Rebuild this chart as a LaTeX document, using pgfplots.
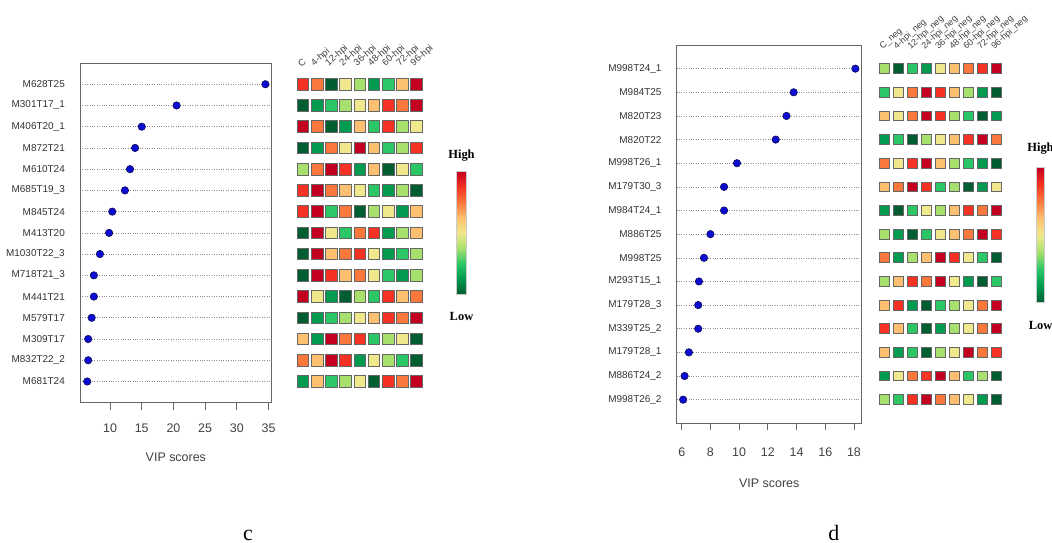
\documentclass[border=0pt]{standalone}
\usepackage{fontspec}
\setmainfont{Liberation Sans}
\newfontfamily\seriffont{Liberation Serif}
\usepackage{pgfplots}
\pgfplotsset{compat=1.18}
\definecolor{dotblue}{RGB}{12,12,210}
\definecolor{dotedge}{RGB}{10,10,90}
\tikzset{
  hdr/.style={anchor=south west, rotate=42, inner sep=0pt, text=black!75},
  hl/.style={font=\seriffont\bfseries\fontsize{12.5}{14}\selectfont}
}
\pgfplotsset{
  colormap={vipmap}{rgb255=(0,94,48) rgb255=(0,155,80) rgb255=(43,199,103)
    rgb255=(168,224,110) rgb255=(240,232,140) rgb255=(253,192,112)
    rgb255=(250,120,60) rgb255=(245,50,35) rgb255=(195,0,32)},
  dotaxis/.style={scale only axis, anchor=north west, y dir=reverse,
    ymin=0, ymax=16, ytick={1,...,15}, xtick pos=bottom, tick align=outside,
    major tick length=7bp, ytick style={draw=none},
    xtick style={black!60, line width=0.8bp},
    axis line style={black!60, line width=1bp},
    ymajorgrids, grid style={dotted, black!45, line width=0.6bp},
    yticklabel style={font=\fontsize{10}{12}\selectfont, text=black!80, inner sep=0pt, xshift=-8bp},
    xticklabel style={font=\fontsize{12.5}{14}\selectfont, text=black!75},
    /pgf/number format/assume math mode=true, clip=false},
  dots/.style={only marks, mark=*, mark size=3.7bp,
    mark options={fill=dotblue, draw=dotedge, line width=0.6bp}},
  heat/.style={scale only axis, anchor=north west, y dir=reverse,
    ymin=0, ymax=16, xmin=0.5, xmax=9.5, hide axis, clip=false,
    colormap name=vipmap, point meta min=1, point meta max=9},
  heatsq/.style={scatter, only marks, mark=square*, point meta=explicit,
    scatter/use mapped color={draw=black!60, fill=mapped color},
    mark options={line width=0.9bp}},
  cbar/.style={scale only axis, anchor=north west, hide axis,
    colormap name=vipmap, point meta min=1, point meta max=9, colorbar}
}
\begin{document}
\begin{tikzpicture}
\path[use as bounding box] (0,0) rectangle (1052bp,-543bp);

% ---------------- panel c ----------------
\begin{axis}[dotaxis, at={(80bp,-63bp)}, width=191.7bp, height=339.7bp,
  xmin=5.26, xmax=35.5, xtick={10,15,...,35}, xticklabel style={yshift=-10.5bp},
  yticklabels={M628T25,M301T17\_1,M406T20\_1,M872T21,M610T24,M685T19\_3,M845T24,M413T20,M1030T22\_3,M718T21\_3,M441T21,M579T17,M309T17,M832T22\_2,M681T24}]
\addplot[dots] coordinates {
 (34.5,1) (20.5,2) (15.0,3) (13.95,4) (13.15,5) (12.35,6) (10.35,7) (9.85,8)
 (8.4,9) (7.45,10) (7.45,11) (7.1,12) (6.55,13) (6.55,14) (6.4,15)};
\node[font=\fontsize{12.5}{14}\selectfont, text=black!75] at (axis cs:20.38,16) [yshift=-55bp] {VIP scores};
\end{axis}

\begin{axis}[heat, at={(295.9bp,-63bp)}, width=127.9bp, height=339.7bp]
\addplot[heatsq, mark size=5.8bp] coordinates {
 (1,1)[8] (2,1)[7] (3,1)[1] (4,1)[5] (5,1)[4] (6,1)[2] (7,1)[3] (8,1)[6] (9,1)[9]
 (1,2)[1] (2,2)[2] (3,2)[3] (4,2)[4] (5,2)[5] (6,2)[6] (7,2)[8] (8,2)[7] (9,2)[9]
 (1,3)[9] (2,3)[7] (3,3)[1] (4,3)[2] (5,3)[6] (6,3)[3] (7,3)[8] (8,3)[4] (9,3)[5]
 (1,4)[1] (2,4)[2] (3,4)[7] (4,4)[5] (5,4)[9] (6,4)[6] (7,4)[3] (8,4)[4] (9,4)[8]
 (1,5)[4] (2,5)[7] (3,5)[9] (4,5)[8] (5,5)[2] (6,5)[6] (7,5)[1] (8,5)[5] (9,5)[3]
 (1,6)[8] (2,6)[9] (3,6)[7] (4,6)[6] (5,6)[5] (6,6)[3] (7,6)[2] (8,6)[4] (9,6)[1]
 (1,7)[8] (2,7)[9] (3,7)[3] (4,7)[7] (5,7)[1] (6,7)[4] (7,7)[5] (8,7)[2] (9,7)[6]
 (1,8)[1] (2,8)[9] (3,8)[5] (4,8)[3] (5,8)[7] (6,8)[8] (7,8)[2] (8,8)[4] (9,8)[6]
 (1,9)[1] (2,9)[9] (3,9)[6] (4,9)[7] (5,9)[8] (6,9)[5] (7,9)[2] (8,9)[3] (9,9)[4]
 (1,10)[1] (2,10)[9] (3,10)[8] (4,10)[6] (5,10)[7] (6,10)[5] (7,10)[3] (8,10)[2] (9,10)[4]
 (1,11)[9] (2,11)[5] (3,11)[2] (4,11)[1] (5,11)[4] (6,11)[3] (7,11)[8] (8,11)[6] (9,11)[7]
 (1,12)[1] (2,12)[2] (3,12)[3] (4,12)[4] (5,12)[5] (6,12)[6] (7,12)[8] (8,12)[7] (9,12)[9]
 (1,13)[6] (2,13)[2] (3,13)[9] (4,13)[7] (5,13)[8] (6,13)[3] (7,13)[4] (8,13)[5] (9,13)[1]
 (1,14)[7] (2,14)[6] (3,14)[9] (4,14)[8] (5,14)[2] (6,14)[5] (7,14)[4] (8,14)[3] (9,14)[1]
 (1,15)[2] (2,15)[6] (3,15)[3] (4,15)[4] (5,15)[5] (6,15)[1] (7,15)[8] (8,15)[7] (9,15)[9]};
\begin{scope}[font=\fontsize{9.5}{11}\selectfont]
\node[hdr] at (axis cs:0.9,0.235) {C};
\node[hdr] at (axis cs:1.9,0.235) {4-hpi};
\node[hdr] at (axis cs:2.9,0.235) {12-hpi};
\node[hdr] at (axis cs:3.9,0.235) {24-hpi};
\node[hdr] at (axis cs:4.9,0.235) {36-hpi};
\node[hdr] at (axis cs:5.9,0.235) {48-hpi};
\node[hdr] at (axis cs:6.9,0.235) {60-hpi};
\node[hdr] at (axis cs:7.9,0.235) {72-hpi};
\node[hdr] at (axis cs:8.9,0.235) {96-hpi};
\end{scope}
\end{axis}

\begin{axis}[cbar, at={(447.9bp,-171.7bp)}, width=9.4bp, height=122.3bp,
  colorbar style={at={(parent axis.north west)}, anchor=north west,
    width=9.4bp, height=122.3bp, ytick=\empty, axis line style={draw=black!20, line width=0.5bp}}]
\addplot[draw=none] coordinates {(0,0) (1,1)};
\end{axis}
\node[hl] at (461.5bp,-156bp) {High};
\node[hl] at (461.5bp,-316bp) {Low};
\node[font=\seriffont\fontsize{22}{24}\selectfont, anchor=base, inner sep=0pt] at (248bp,-540.3bp) {c};

% ---------------- panel d ----------------
\begin{axis}[dotaxis, at={(676.7bp,-45bp)}, width=185bp, height=378.3bp,
  xmin=5.65, xmax=18.54, xtick={6,8,...,18}, xticklabel style={yshift=-14bp},
  yticklabels={M998T24\_1,M984T25,M820T23,M820T22,M998T26\_1,M179T30\_3,M984T24\_1,M886T25,M998T25,M293T15\_1,M179T28\_3,M339T25\_2,M179T28\_1,M886T24\_2,M998T26\_2}]
\addplot[dots] coordinates {
 (18.1,1) (13.8,2) (13.3,3) (12.55,4) (9.85,5) (8.95,6) (8.95,7) (8.0,8)
 (7.55,9) (7.2,10) (7.15,11) (7.15,12) (6.5,13) (6.2,14) (6.1,15)};
\node[font=\fontsize{12.5}{14}\selectfont, text=black!75] at (axis cs:12.095,16) [yshift=-60bp] {VIP scores};
\end{axis}

\begin{axis}[heat, at={(877.7bp,-45bp)}, width=125.6bp, height=378.3bp]
\addplot[heatsq, mark size=4.9bp] coordinates {
 (1,1)[4] (2,1)[1] (3,1)[3] (4,1)[2] (5,1)[5] (6,1)[6] (7,1)[7] (8,1)[8] (9,1)[9]
 (1,2)[3] (2,2)[5] (3,2)[7] (4,2)[9] (5,2)[8] (6,2)[6] (7,2)[4] (8,2)[2] (9,2)[1]
 (1,3)[6] (2,3)[5] (3,3)[7] (4,3)[9] (5,3)[8] (6,3)[4] (7,3)[3] (8,3)[1] (9,3)[2]
 (1,4)[2] (2,4)[3] (3,4)[1] (4,4)[4] (5,4)[5] (6,4)[6] (7,4)[8] (8,4)[9] (9,4)[7]
 (1,5)[7] (2,5)[5] (3,5)[8] (4,5)[9] (5,5)[6] (6,5)[4] (7,5)[3] (8,5)[2] (9,5)[1]
 (1,6)[6] (2,6)[7] (3,6)[9] (4,6)[8] (5,6)[3] (6,6)[4] (7,6)[1] (8,6)[2] (9,6)[5]
 (1,7)[2] (2,7)[1] (3,7)[3] (4,7)[5] (5,7)[4] (6,7)[6] (7,7)[8] (8,7)[7] (9,7)[9]
 (1,8)[4] (2,8)[2] (3,8)[1] (4,8)[3] (5,8)[5] (6,8)[6] (7,8)[7] (8,8)[9] (9,8)[8]
 (1,9)[7] (2,9)[2] (3,9)[4] (4,9)[6] (5,9)[9] (6,9)[8] (7,9)[5] (8,9)[3] (9,9)[1]
 (1,10)[4] (2,10)[6] (3,10)[8] (4,10)[7] (5,10)[9] (6,10)[5] (7,10)[2] (8,10)[1] (9,10)[3]
 (1,11)[6] (2,11)[8] (3,11)[2] (4,11)[1] (5,11)[3] (6,11)[4] (7,11)[5] (8,11)[7] (9,11)[9]
 (1,12)[8] (2,12)[6] (3,12)[3] (4,12)[1] (5,12)[2] (6,12)[4] (7,12)[5] (8,12)[7] (9,12)[9]
 (1,13)[6] (2,13)[2] (3,13)[3] (4,13)[1] (5,13)[4] (6,13)[5] (7,13)[9] (8,13)[7] (9,13)[8]
 (1,14)[2] (2,14)[5] (3,14)[7] (4,14)[8] (5,14)[9] (6,14)[6] (7,14)[3] (8,14)[4] (9,14)[1]
 (1,15)[4] (2,15)[3] (3,15)[8] (4,15)[9] (5,15)[7] (6,15)[6] (7,15)[5] (8,15)[2] (9,15)[1]};
\begin{scope}[font=\fontsize{9}{10}\selectfont]
\node[hdr] at (axis cs:0.96,0.254) {C\_neg};
\node[hdr] at (axis cs:1.96,0.254) {4-hpi\_neg};
\node[hdr] at (axis cs:2.96,0.254) {12-hpi\_neg};
\node[hdr] at (axis cs:3.96,0.254) {24-hpi\_neg};
\node[hdr] at (axis cs:4.96,0.254) {36-hpi\_neg};
\node[hdr] at (axis cs:5.96,0.254) {48-hpi\_neg};
\node[hdr] at (axis cs:6.96,0.254) {60-hpi\_neg};
\node[hdr] at (axis cs:7.96,0.254) {72-hpi\_neg};
\node[hdr] at (axis cs:8.96,0.254) {96-hpi\_neg};
\end{scope}
\end{axis}

\begin{axis}[cbar, at={(1027.7bp,-167.3bp)}, width=8.3bp, height=135.4bp,
  colorbar style={at={(parent axis.north west)}, anchor=north west,
    width=8.3bp, height=135.4bp, ytick=\empty, axis line style={draw=black!20, line width=0.5bp}}]
\addplot[draw=none] coordinates {(0,0) (1,1)};
\end{axis}
\node[hl] at (1040.5bp,-149bp) {High};
\node[hl] at (1040.5bp,-325bp) {Low};
\node[font=\seriffont\fontsize{22}{24}\selectfont, anchor=base, inner sep=0pt] at (833.8bp,-540.7bp) {d};
\end{tikzpicture}
\end{document}
